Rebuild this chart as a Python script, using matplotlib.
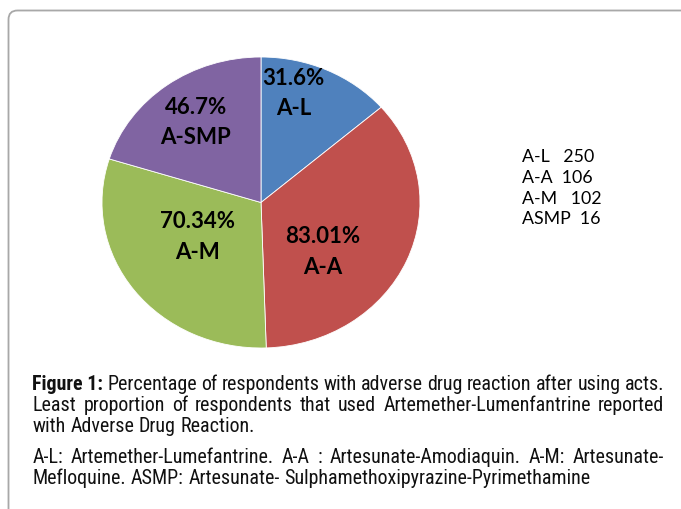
import matplotlib
matplotlib.use("Agg")
import matplotlib.pyplot as plt
from matplotlib.patches import FancyBboxPatch
from matplotlib.transforms import IdentityTransform
from matplotlib import font_manager

# ---- data ----
categories = ["A-L", "A-A", "A-M", "A-SMP"]
percent_values = [31.6, 83.01, 70.34, 46.7]
percent_labels = ["31.6%", "83.01%", "70.34%", "46.7%"]
side_names = ["A-L", "A-A", "A-M", "ASMP"]
side_counts = ["250", "106", "102", "16"]
side_gaps = ["   ", "  ", "   ", "  "]

caption_lines = [
    [("Figure 1:", "bold"), ("Percentage", "normal"), ("of", "normal"), ("respondents", "normal"),
     ("with", "normal"), ("adverse", "normal"), ("drug", "normal"), ("reaction", "normal"),
     ("after", "normal"), ("using", "normal"), ("acts.", "normal")],
    [(w, "normal") for w in "Least proportion of respondents that used Artemether-Lumenfantrine reported".split()],
    [(w, "normal") for w in "with Adverse Drug Reaction.".split()],
    [(w, "normal") for w in "A-L: Artemether-Lumefantrine. A-A : Artesunate-Amodiaquin. A-M: Artesunate-".split()],
    [(w, "normal") for w in "Mefloquine. ASMP: Artesunate- Sulphamethoxipyrazine-Pyrimethamine".split()],
]
caption_justify = [True, True, False, True, False]

colors = ["#4F81BD", "#C0504D", "#9BBB59", "#8064A2"]

W, H = 681, 509
fig = plt.figure(figsize=(W / 100, H / 100), dpi=100)
fig.patch.set_facecolor("white")

# border box with rounded top-left corner
border = FancyBboxPatch((8.5, -30), 760, H - 10.5 + 30,
                        boxstyle="round,pad=0,rounding_size=9",
                        transform=IdentityTransform(), facecolor="none",
                        edgecolor="#a8a8a8", linewidth=1.3)
fig.add_artist(border)

# pie
left, right, top, bottom = 102, 420, 57, 348
ax = fig.add_axes([left / W, 1 - bottom / H, (right - left) / W, (bottom - top) / H])
wedges, _ = ax.pie(percent_values, colors=colors, startangle=90, counterclock=False,
                   wedgeprops=dict(edgecolor="white", linewidth=0.6))
ax.set_aspect("auto")
ax.set_xlim(-1, 1)
ax.set_ylim(-1, 1)
ax.axis("off")

label_pos = [(0.205, 0.75), (0.39, -0.34), (-0.40, -0.236), (-0.41, 0.55)]
half_gap = 0.105
for (x, y), pct, name in zip(label_pos, percent_labels, categories):
    ax.text(x, y + half_gap, pct, ha="center", va="center", fontsize=16,
            fontweight="bold", family="Lato", color="black")
    ax.text(x, y - half_gap, name, ha="center", va="center", fontsize=16,
            fontweight="bold", family="Lato", color="black")

# side list
for i, (n, g, c) in enumerate(zip(side_names, side_gaps, side_counts)):
    fig.text(522 / W, 1 - (162.5 + i * 20.5) / H, n + g + c, ha="left", va="baseline",
             fontsize=12.8, family="Lato", color="black")

# caption font: prefer a narrow / condensed sans
def find_narrow():
    cands = [("Liberation Sans Narrow", "normal"), ("Arial Narrow", "normal"),
             ("Roboto Condensed", "normal"), ("Noto Sans", "condensed"),
             ("DejaVu Sans", "condensed"), ("Open Sans", "condensed"),
             ("Roboto", "condensed"), ("Inter", "condensed")]
    for fam, st in cands:
        try:
            p = font_manager.findfont(font_manager.FontProperties(family=fam, stretch=st),
                                      fallback_to_default=False)
        except Exception:
            continue
        low = p.lower()
        if "narrow" in low or "condensed" in low:
            return fam, st
    return "Liberation Sans", "normal"

cap_family, cap_stretch = find_narrow()

renderer = fig.canvas.get_renderer()

def width_px(s, fs, weight):
    t = fig.text(0, 0, s, fontsize=fs, family=cap_family, fontstretch=cap_stretch,
                 fontweight=weight)
    w = t.get_window_extent(renderer).width
    t.remove()
    return w

x0, x1 = 32.5, 664
target = x1 - x0
fs0 = 10.0
space0 = width_px("a a", fs0, "normal") - width_px("aa", fs0, "normal")
nat = sum(width_px(w, fs0, wt) for w, wt in caption_lines[0]) + space0 * (len(caption_lines[0]) - 1)
fs = min(fs0 * target / nat, 15.5)

baselines = [390, 411, 432, 463, 484.5]
space = width_px("a a", fs, "normal") - width_px("aa", fs, "normal")
for line, just, yb in zip(caption_lines, caption_justify, baselines):
    ws = [width_px(w, fs, wt) for w, wt in line]
    if just and len(line) > 1:
        gap = (target - sum(ws)) / (len(line) - 1)
    else:
        gap = space
    x = x0
    for (w, wt), wd in zip(line, ws):
        fig.text(x / W, 1 - yb / H, w, fontsize=fs, family=cap_family, fontstretch=cap_stretch,
                 fontweight=wt, ha="left", va="baseline", color="#111111")
        x += wd + gap

fig.savefig("out.png", dpi=100, facecolor="white")
